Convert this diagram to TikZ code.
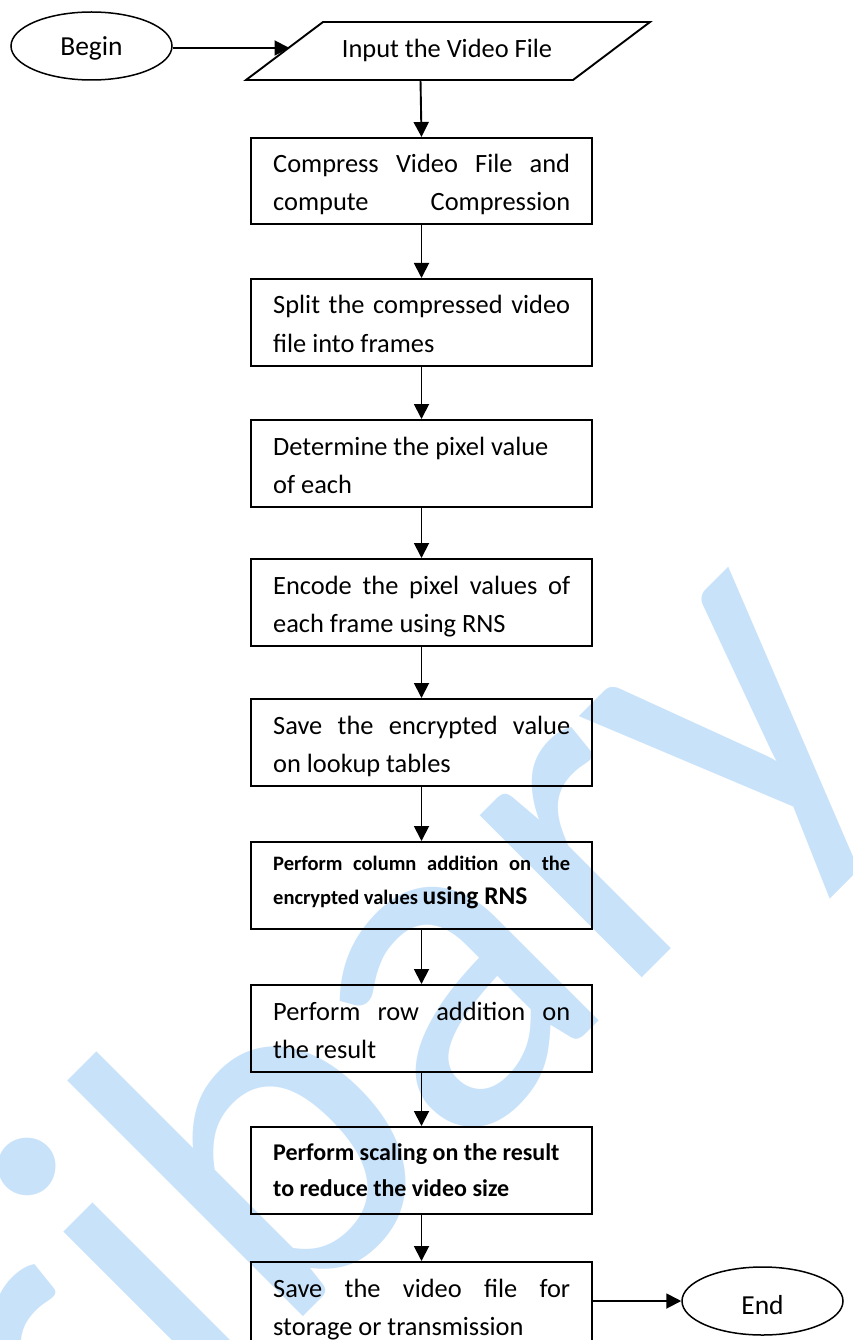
\documentclass[tikz,border=0pt]{standalone}
\usepackage{fontspec}
\setmainfont{Carlito}
\usetikzlibrary{arrows.meta,shapes.geometric,calc}
\definecolor{wmblue}{RGB}{200,226,250}
\newcommand{\normsz}{\fontsize{26.4bp}{38bp}\selectfont}
\newcommand{\ovalsz}{\fontsize{27.5bp}{33bp}\selectfont}
\newcommand{\colsz}{\fontsize{20.5bp}{25bp}\selectfont\bfseries}
\newcommand{\rnssz}{\fontsize{25.5bp}{30bp}\selectfont\bfseries}
\newcommand{\sclsz}{\fontsize{24bp}{30bp}\selectfont\bfseries}
\newcommand{\wmsz}{\fontsize{480bp}{560bp}\selectfont}
\newcommand{\jline}[1]{\hbox to 297bp{#1}}
\begin{document}
\begin{tikzpicture}[x=1bp,y=-1bp,
  stepbox/.style={draw, line width=1.9bp, minimum width=341bp, minimum height=87bp, inner sep=0pt, anchor=north},
  oval/.style={draw, ellipse, line width=1.5bp, minimum width=161bp, minimum height=68bp, inner sep=0pt, font=\ovalsz},
  ln/.style={anchor=base west, inner sep=0pt, font=\normsz},
  arr/.style={line width=1.9bp, -{Triangle[length=15bp,width=15bp]}}]
\path[use as bounding box] (0,0) rectangle (852,1340);

% watermark
\node[anchor=base west, inner sep=0pt, rotate=45, text=wmblue, font=\wmsz] (wm) at (-217,1837) {Afribary};

% Begin
\node[oval, text height=24bp, text depth=5bp] (begin) at (91.5,46) {Begin};

% input parallelogram
\coordinate (pBL) at (246,80);
\coordinate (pTL) at (323,22);
\coordinate (pTR) at (650,22);
\coordinate (pBR) at (573,80);
\draw[line width=1.9bp, line join=miter] (pBL) -- (pTL) -- (pTR) -- (pBR) -- cycle;
\node[anchor=base, inner sep=0pt, font=\normsz] (input) at (447,58) {Input the Video File};
\coordinate (inL) at (289.5,48);
\coordinate (inB) at (420.5,80);

% boxes
\node[stepbox, minimum height=86bp] (b1) at (421.5,137) {};
\node[stepbox] (b2) at (421.5,278) {};
\node[stepbox] (b3) at (421.5,419) {};
\node[stepbox] (b4) at (421.5,558) {};
\node[stepbox] (b5) at (421.5,698) {};
\node[stepbox] (b6) at (421.5,841) {};
\node[stepbox] (b7) at (421.5,984) {};
\node[stepbox] (b8) at (421.5,1126) {};
\node[stepbox] (b9) at (421.5,1261) {};

% texts (clipped to the box interiors)
\begin{scope}
\clip ([yshift=10bp]b1.south west) rectangle (b1.north east);
\node[ln] (t1a) at (273,173) {\jline{Compress\hfill Video\hfill File\hfill and}};
\node[ln] (t1b) at (273,211) {\jline{compute\hfill Compression}};
\end{scope}
\begin{scope}
\clip ([yshift=10bp]b2.south west) rectangle (b2.north east);
\node[ln] (t2a) at (273,314) {\jline{Split\hfill the\hfill compressed\hfill video}};
\node[ln] (t2b) at (273,352) {file into frames};
\end{scope}
\begin{scope}
\clip ([yshift=10bp]b3.south west) rectangle (b3.north east);
\node[ln] (t3a) at (273,455) {Determine the pixel value};
\node[ln] (t3b) at (273,493) {of each};
\end{scope}
\begin{scope}
\clip ([yshift=10bp]b4.south west) rectangle (b4.north east);
\node[ln] (t4a) at (273,594) {\jline{Encode\hfill the\hfill pixel\hfill values\hfill of}};
\node[ln] (t4b) at (273,632) {each frame using RNS};
\end{scope}
\begin{scope}
\clip ([yshift=10bp]b5.south west) rectangle (b5.north east);
\node[ln] (t5a) at (273,734) {\jline{Save\hfill the\hfill encrypted\hfill value}};
\node[ln] (t5b) at (273,772) {on lookup tables};
\end{scope}
\begin{scope}
\clip ([yshift=10bp]b6.south west) rectangle (b6.north east);
\node[ln, font=\colsz] (t6a) at (273,870) {\jline{Perform\hfill column\hfill addition\hfill on\hfill the}};
\node[ln, font=\colsz] (t6b) at (273,904) {encrypted values {\rnssz using RNS}};
\end{scope}
\begin{scope}
\clip ([yshift=10bp]b7.south west) rectangle (b7.north east);
\node[ln] (t7a) at (273,1020) {\jline{Perform\hfill row\hfill addition\hfill on}};
\node[ln] (t7b) at (273,1058) {the result};
\end{scope}
\begin{scope}
\clip ([yshift=10bp]b8.south west) rectangle (b8.north east);
\node[ln, font=\sclsz] (t8a) at (273,1160) {Perform scaling on the result};
\node[ln, font=\sclsz] (t8b) at (273,1196) {to reduce the video size};
\end{scope}
\begin{scope}
\clip (b9.south west) rectangle (b9.north east);
\node[ln] (t9a) at (273,1297) {\jline{Save\hfill the\hfill video\hfill file\hfill for}};
\node[ln] (t9b) at (273,1335) {storage or transmission};
\end{scope}

% End
\node[oval, text height=28bp, text depth=2bp] (end) at (762.5,1301) {End};

% connectors
\draw[arr] (begin.east |- inL) -- (inL);
\draw[arr] (inB) -- (b1.north);
\draw[arr] (b1.south) -- (b2.north);
\draw[arr] (b2.south) -- (b3.north);
\draw[arr] (b3.south) -- (b4.north);
\draw[arr] (b4.south) -- (b5.north);
\draw[arr] (b5.south) -- (b6.north);
\draw[arr] (b6.south) -- (b7.north);
\draw[arr] (b7.south) -- (b8.north);
\draw[arr] (b8.south) -- (b9.north);
\draw[arr] (b9.east |- end.west) -- (end.west);
\end{tikzpicture}
\end{document}
